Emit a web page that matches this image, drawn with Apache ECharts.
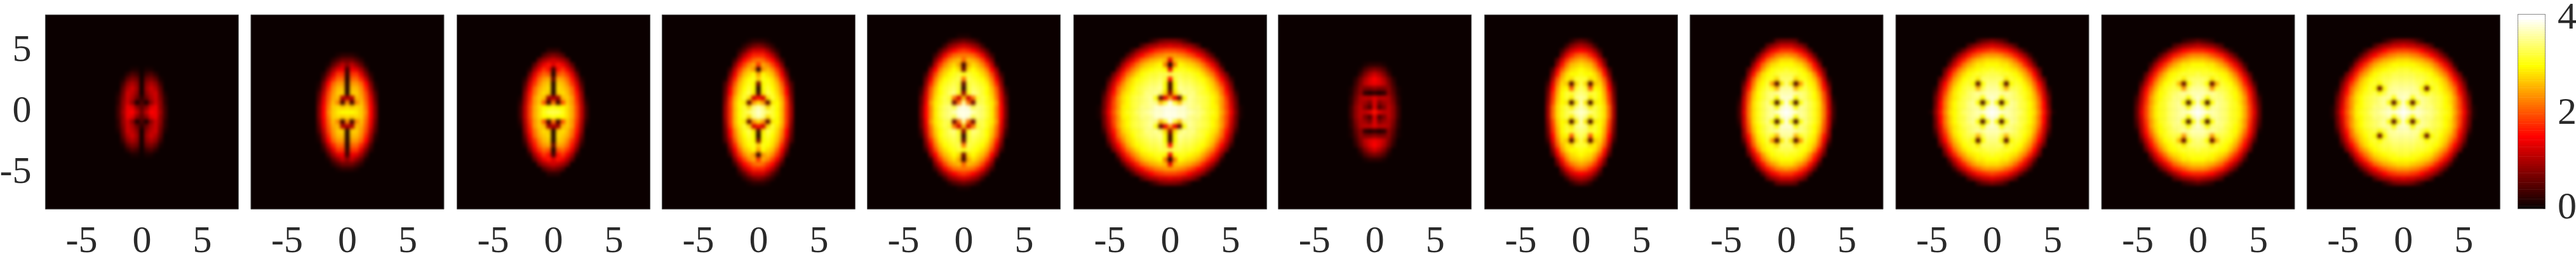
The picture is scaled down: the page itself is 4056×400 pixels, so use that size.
<!DOCTYPE html>
<html><head><meta charset="utf-8">
<style>html,body{margin:0;padding:0;background:#fff}
#heat,#axes{position:absolute;left:0;top:0;width:4056px;height:400px}
#heat{filter:blur(2.5px)}</style>
<script src="https://cdn.jsdelivr.net/npm/echarts@6/dist/echarts.min.js"></script>
</head><body><div id="heat"></div><div id="axes"></div>
<script>
// Field values, in tenths; one quadrant per panel
// (row = cells away from y=0, column = cells away from x=0, missing = 0).
const panel1 = [[6,11,15,14,9,3],[5,8,13,14,8,3],[4,1,8,12,8,2],[2,6,10,12,7,2],[0,8,11,12,6,1],[0,9,12,10,5],[0,8,10,8,3],[0,6,7,5,1],[0,3,4,2],[0,1,1]];
const panel2 = [[30,30,29,27,23,15,7],[28,27,28,27,22,15,7],[23,3,23,26,21,14,6],[10,10,26,25,20,13,5],[1,27,27,24,19,11,4],[1,26,26,23,17,9,2],[1,24,24,21,15,7,1],[1,21,21,17,11,4],[2,18,18,13,7,2],[3,14,13,9,4],[8,11,8,5,1],[6,6,4,2],[2,2,1]];
const panel3 = [[33,33,31,28,25,19,11,3],[31,30,30,28,25,19,11,3],[22,3,20,27,24,18,10,2],[10,9,26,27,24,17,9,1],[1,27,28,26,22,16,8],[1,28,27,25,21,14,6],[1,27,26,23,18,12,4],[5,25,24,21,16,9,2],[1,20,21,18,13,6],[3,16,18,14,9,2],[13,16,14,10,5],[12,11,9,6],[7,6,4],[2,2]];
const panel4 = [[38,36,34,32,30,26,18,9],[37,35,28,32,30,26,18,9],[28,24,5,29,30,26,18,8],[16,12,28,32,29,25,17,7],[3,29,33,31,28,23,15,6],[1,30,32,30,27,22,14,5],[6,30,31,29,26,20,11,4],[27,31,30,28,24,17,9,1],[24,30,28,26,21,14,6],[2,24,26,23,18,11,3],[18,25,23,19,14,7],[22,21,18,15,9,3],[17,17,14,10,5],[12,12,9,5,2],[7,6,4,2],[2,2,1]];
const panel5 = [[39,39,37,35,34,32,29,23,15,6],[39,38,33,35,34,32,29,23,15,6],[36,22,6,33,33,31,29,24,14,5],[26,12,22,32,33,31,28,22,13,5],[8,31,35,34,32,30,27,21,12,3],[2,32,34,33,32,30,26,20,10,2],[5,32,33,32,31,29,24,17,8],[22,33,32,31,30,27,22,14,6],[31,32,31,30,28,25,19,11,3],[6,28,30,28,26,22,15,8],[3,25,28,26,23,18,11,2],[21,26,25,23,19,13,7],[22,22,21,18,14,8,3],[18,17,15,12,8,4],[12,11,9,7,3],[6,5,4,2],[1,1]];
const panel6 = [[39,39,38,38,37,36,35,34,32,31,29,25,20,14,7,1],[39,39,38,38,36,35,35,33,32,30,29,24,19,13,6,1],[39,32,26,35,36,35,34,33,32,30,28,24,19,12,6],[24,14,5,30,36,35,34,33,32,30,28,24,18,11,5],[8,28,34,36,35,35,33,32,31,29,27,22,16,10,3],[3,30,36,35,35,34,33,32,30,28,25,21,14,8,1],[3,30,35,34,34,33,32,31,29,27,23,18,12,6],[16,32,34,33,33,32,31,30,28,25,20,15,9,3],[33,33,33,32,32,31,30,28,25,22,17,11,6],[14,30,31,31,30,29,28,25,22,18,13,7],[1,22,30,29,28,27,25,22,18,14,9,2],[14,26,27,26,25,23,21,17,13,9,4],[24,24,23,22,20,18,15,12,8,4],[19,19,18,17,15,12,10,7,3],[13,12,12,10,9,7,4],[7,7,6,4,2]];
const panel7 = [[16,13,11,11,8,3],[13,4,7,11,8,3],[13,7,9,10,7,2],[13,11,11,10,6,2],[2,1,2,8,5,1],[8,7,7,8,4,1],[14,13,11,7,3],[15,13,10,6,2],[12,10,7,3],[7,6,4,1],[2,2,1]];
const panel8 = [[38,37,35,33,31,28,21,9],[37,35,29,33,31,28,21,9],[37,29,3,29,30,27,19,8],[36,35,29,32,30,26,18,7],[35,34,32,32,30,25,17,6],[34,32,20,30,29,24,15,5],[33,28,4,27,28,22,13,3],[32,32,28,29,26,20,10,1],[31,30,30,28,24,16,7],[30,29,28,25,20,13,4],[28,27,26,22,16,8],[25,24,22,18,12,5],[21,20,17,13,7],[15,14,12,8,3],[10,9,7,3],[5,4,2]];
const panel9 = [[40,39,38,36,35,33,31,28,22,13,3],[39,38,30,36,35,33,31,28,22,12,3],[39,30,3,30,35,33,31,28,21,12,2],[38,38,30,35,34,32,30,27,20,11,1],[37,37,36,35,34,32,30,26,19,9],[36,36,26,31,33,31,29,24,16,8],[35,29,4,24,32,30,28,22,14,5],[34,34,28,31,31,29,26,20,11,2],[33,33,32,31,30,28,23,16,8],[32,31,31,30,28,24,18,12,5],[30,30,29,28,25,21,15,8],[28,28,26,24,21,16,10,3],[24,23,22,19,16,11,5],[18,18,16,14,10,5],[12,12,10,8,5],[6,6,5,1]];
const panel10 = [[40,39,38,37,36,35,34,32,30,28,23,16,8,1],[39,38,30,36,36,35,33,32,30,27,22,15,7],[38,30,3,30,36,35,33,32,30,27,22,15,6],[38,37,30,35,35,34,33,31,29,26,21,13,6],[37,37,36,36,35,34,32,31,29,25,19,12,4],[36,36,33,26,33,33,32,30,28,23,17,10,2],[35,35,30,4,30,32,31,29,26,21,15,8],[34,34,34,29,32,31,30,27,24,18,11,5],[33,33,32,32,31,30,28,25,21,15,8],[32,31,31,30,29,28,25,22,17,11,5],[30,30,29,29,27,25,22,17,12,6],[28,28,27,26,24,21,17,13,8,2],[24,24,23,21,19,16,12,8,3],[19,18,17,16,13,10,6,2],[13,12,11,9,7,4],[7,6,5,3]];
const panel11 = [[40,39,38,37,36,35,34,32,31,29,25,19,13,5],[39,37,30,36,36,35,34,32,31,29,25,19,12,5],[38,30,3,30,36,35,34,32,31,28,24,18,11,4],[38,36,30,35,35,35,33,32,30,28,24,17,10,3],[37,37,36,36,35,34,33,31,30,27,22,16,9,1],[36,36,34,24,32,33,32,31,29,25,20,14,7],[35,34,30,5,26,32,31,30,27,23,17,11,4],[34,34,33,29,32,31,30,28,25,20,15,8,1],[33,32,32,32,31,30,29,26,22,17,11,5],[31,31,31,30,29,28,26,22,18,13,7],[30,30,29,29,27,25,22,18,14,9,3],[27,27,26,25,23,21,17,13,9,4],[23,23,22,20,18,16,12,8,4],[17,17,16,15,12,9,6,2],[11,10,9,8,6,4],[5,4,3,2]];
const panel12 = [[40,39,38,38,37,36,35,34,32,31,29,25,20,14,7,1],[39,36,30,37,36,35,35,33,32,30,29,24,19,13,6,1],[38,30,4,30,36,35,34,33,32,30,28,24,19,12,6],[38,37,30,36,36,35,34,33,32,30,28,24,18,11,5],[37,37,36,36,33,30,33,32,31,29,27,22,16,10,3],[36,36,36,35,30,5,30,32,30,28,25,21,14,8,1],[35,35,35,34,33,30,32,31,29,27,23,18,12,6],[34,34,34,33,33,32,31,30,28,25,20,15,9,3],[33,33,33,32,32,31,30,28,25,22,17,11,6],[32,32,31,31,30,29,28,25,22,18,13,7],[30,30,30,29,28,27,25,22,18,14,9,2],[28,28,27,26,25,23,21,17,13,9,4],[24,24,23,22,20,18,15,12,8,4],[19,19,18,17,15,12,10,7,3],[13,12,12,10,9,7,4],[7,7,6,4,2]];
const panels = [panel1,panel2,panel3,panel4,panel5,panel6,panel7,panel8,panel9,panel10,panel11,panel12];

const xTickLabels = [-5,0,5];
const yTickLabels = [-5,0,5];
const colorbarTicks = [0,2,4];
const colorbarLevels = [0,0.05,0.1,0.15,0.2,0.25,0.3,0.35,0.4,0.45,0.5,0.55,0.6,0.65,0.7,0.75,0.8,0.85,0.9,0.95,1,1.05,1.1,1.15,1.2,1.25,1.3,1.35,1.4,1.45,1.5,1.55,1.6,1.65,1.7,1.75,1.8,1.85,1.9,1.95,2,2.05,2.1,2.15,2.2,2.25,2.3,2.35,2.4,2.45,2.5,2.55,2.6,2.65,2.7,2.75,2.8,2.85,2.9,2.95,3,3.05,3.1,3.15,3.2,3.25,3.3,3.35,3.4,3.45,3.5,3.55,3.6,3.65,3.7,3.75,3.8,3.85,3.9,3.95,4,4];
const hotColors = ['#0b0000','#5c0000','#ae0000','#ff0000','#ff5500','#ffaa00','#ffff00','#ffff80','#ffffff'];

// layout
const panelLefts = [71.4,395,719.6,1042.4,1365.6,1690.6,2012.7,2337.5,2661,2985,3309,3632.3];
const panelWidth = 304, panelTop = 23.3, panelHeight = 306;
const halfCells = 21, readCells = 41;           // one spare cell each side, clipped away
const cellW = panelWidth/readCells, cellH = panelHeight/readCells;
const labelFont = {fontFamily:'"Liberation Serif"',fontSize:60,color:'#2a2a2a'};

const cellIds = [];
for (let i=-halfCells;i<=halfCells;i++) cellIds.push(String(i));
const hiddenCat = (g,data)=>({type:'category',gridIndex:g,data,show:false,boundaryGap:true});

// heat layer
const hGrid=[],hX=[],hY=[],hSeries=[];
panels.forEach((rows,p)=>{
  hGrid.push({left:panelLefts[p]-cellW,top:panelTop-cellH,width:cellW*(2*halfCells+1),height:cellH*(2*halfCells+1),
    show:true,backgroundColor:'#0b0000',borderWidth:0,outerBoundsMode:'none'});
  hX.push(hiddenCat(p,cellIds)); hY.push(hiddenCat(p,cellIds));
  const data=[];
  for(let r=-halfCells;r<=halfCells;r++)for(let c=-halfCells;c<=halfCells;c++){
    const row=rows[Math.abs(r)]||[];
    data.push([c+halfCells,r+halfCells,(row[Math.abs(c)]||0)/10]);
  }
  hSeries.push({type:'heatmap',xAxisIndex:p,yAxisIndex:p,data,silent:true,progressive:0,animation:false,itemStyle:{borderWidth:0}});
});
const heatEl=document.getElementById('heat');
heatEl.style.clipPath="path('"+panelLefts.map(l=>`M${l} ${panelTop}h${panelWidth}v${panelHeight}h${-panelWidth}Z`).join('')+"')";
echarts.init(heatEl,null,{renderer:'canvas'}).setOption({animation:false,grid:hGrid,xAxis:hX,yAxis:hY,series:hSeries,
  visualMap:{show:false,type:'continuous',min:0,max:4,inRange:{color:hotColors},seriesIndex:hSeries.map((s,i)=>i)}});

// axes layer with labels and colorbar
const grid=[],xAxis=[],yAxis=[];
panelLefts.forEach((l,p)=>{
  grid.push({left:l,top:panelTop,width:panelWidth,height:panelHeight,show:true,backgroundColor:'transparent',borderColor:'#555',borderWidth:1,outerBoundsMode:'none'});
  xAxis.push({type:'value',gridIndex:p,min:-8,max:8,position:'bottom',axisLine:{show:false},axisTick:{show:false},splitLine:{show:false},
    axisLabel:{...labelFont,margin:22,customValues:xTickLabels}});
  yAxis.push({type:'value',gridIndex:p,min:-8,max:8,position:'left',axisLine:{show:false},axisTick:{show:false},splitLine:{show:false},
    axisLabel:{...labelFont,show:p===0,margin:22,padding:[0,0,9,0],customValues:yTickLabels}});
});
const cb=panelLefts.length;
grid.push({left:3965,top:23.3,width:42,height:305,show:true,borderColor:'#666',borderWidth:2,backgroundColor:'transparent',outerBoundsMode:'none'});
const cbX=xAxis.length; xAxis.push(hiddenCat(cb,['bar']));
const cbY=yAxis.length; yAxis.push(hiddenCat(cb,colorbarLevels.map((v,i)=>String(i))));
yAxis.push({type:'value',gridIndex:cb,min:0,max:4.08,position:'right',axisLine:{show:false},axisTick:{show:true,inside:true,length:3,customValues:colorbarTicks,lineStyle:{color:'#333'}},splitLine:{show:false},
  axisLabel:{...labelFont,margin:20,padding:[0,0,10,0],customValues:colorbarTicks}});
const series=[{type:'heatmap',xAxisIndex:cbX,yAxisIndex:cbY,data:colorbarLevels.map((v,i)=>[0,i,v]),silent:true,progressive:0,animation:false}];
echarts.init(document.getElementById('axes'),null,{renderer:'canvas'}).setOption({animation:false,grid,xAxis,yAxis,series,
  visualMap:{show:false,type:'continuous',min:0,max:4,inRange:{color:hotColors},seriesIndex:[0]}});
</script></body></html>
